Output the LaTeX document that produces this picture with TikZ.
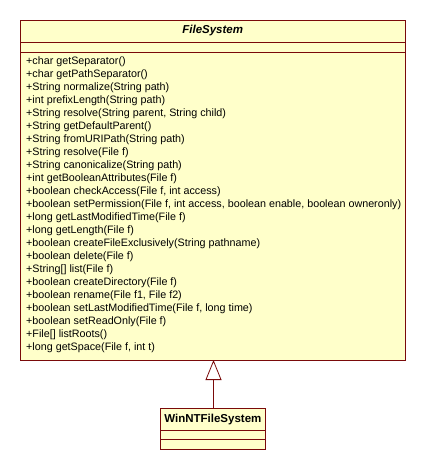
\documentclass[tikz,border=0pt]{standalone}
\usepackage{fontspec}
\setmainfont{Liberation Sans}
\usetikzlibrary{arrows.meta}
\definecolor{umlfill}{HTML}{FFFFCA}
\definecolor{umlline}{HTML}{7A0A0A}
\tikzset{
  box/.style={draw=umlline, fill=umlfill, line width=0.8pt},
  sep/.style={draw=umlline, line width=0.8pt},
  meth/.style={anchor=west, inner sep=0pt, font=\fontsize{10.75}{12}\selectfont},
  cname/.style={inner sep=0pt, font=\fontsize{11.5}{12}\selectfont\bfseries},
  inherit/.style={draw=umlline, line width=0.8pt, -{Triangle[open, length=20pt, width=16pt, fill=white]}}
}
\begin{document}
\begin{tikzpicture}[x=1pt, y=-1pt]
\useasboundingbox (0,0) rectangle (426,470);
% FileSystem
\draw[box] (20,20) rectangle (405.5,360);
\coordinate (fsbot) at (213.5,360);
\draw[sep] (20,42) -- (405.5,42);
\draw[sep] (20,52) -- (405.5,52);
\node[cname] (fsname) at (212.7,31) {\itshape FileSystem};
\foreach \t [count=\i from 0] in {
 {+char getSeparator()},
 {+char getPathSeparator()},
 {+String normalize(String path)},
 {+int prefixLength(String path)},
 {+String resolve(String parent, String child)},
 {+String getDefaultParent()},
 {+String fromURIPath(String path)},
 {+String resolve(File f)},
 {+String canonicalize(String path)},
 {+int getBooleanAttributes(File f)},
 {+boolean checkAccess(File f, int access)},
 {+boolean setPermission(File f, int access, boolean enable, boolean owneronly)},
 {+long getLastModifiedTime(File f)},
 {+long getLength(File f)},
 {+boolean createFileExclusively(String pathname)},
 {+boolean delete(File f)},
 {+String[] list(File f)},
 {+boolean createDirectory(File f)},
 {+boolean rename(File f1, File f2)},
 {+boolean setLastModifiedTime(File f, long time)},
 {+boolean setReadOnly(File f)},
 {+File[] listRoots()},
 {+long getSpace(File f, int t)}
}{
  \node[meth] (m\i) at (26,{61.7+13*\i}) {\t};
}
% WinNTFileSystem
\draw[box] (160,408) rectangle (265.7,449);
\draw[sep] (160,430.7) -- (265.7,430.7);
\draw[sep] (160,439.3) -- (265.7,439.3);
\node[cname] (wname) at (212.85,419.5) {WinNTFileSystem};
\coordinate (wtop) at (213.5,408);
\draw[inherit] (wtop) -- (fsbot);
\end{tikzpicture}
\end{document}
